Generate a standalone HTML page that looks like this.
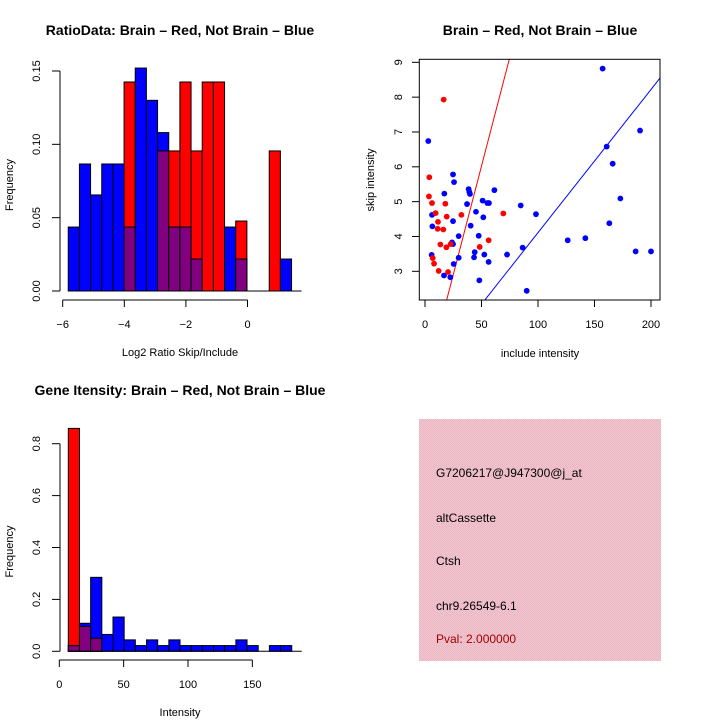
<!DOCTYPE html>
<html><head><meta charset="utf-8"><style>
body{margin:0;background:#fff}
svg{display:block;font-family:"Liberation Sans",sans-serif}
</style></head><body>
<svg id="svg" width="720" height="720" viewBox="0 0 720 720">
<defs><pattern id="pk" width="2" height="2" patternUnits="userSpaceOnUse"><rect width="2" height="2" fill="#f4c4cc"/><rect width="1" height="1" fill="#e8b8c6"/><rect x="1" y="1" width="1" height="1" fill="#e8b8c6"/></pattern></defs>
<text x="180" y="35" font-size="14" font-weight="bold" text-anchor="middle">RatioData: Brain – Red, Not Brain – Blue</text>
<text x="540" y="35" font-size="14" font-weight="bold" text-anchor="middle">Brain – Red, Not Brain – Blue</text>
<text x="180" y="395" font-size="14" font-weight="bold" text-anchor="middle">Gene Itensity: Brain – Red, Not Brain – Blue</text>
<g id="h1"></g>
<g id="sc"></g>
<g id="h2"></g>
<g>
<rect x="419" y="419" width="242" height="242" fill="url(#pk)"/>
<text x="436" y="477" font-size="12">G7206217@J947300@j_at</text>
<text x="436" y="522" font-size="12">altCassette</text>
<text x="436" y="565" font-size="12">Ctsh</text>
<text x="436" y="610" font-size="12">chr9.26549-6.1</text>
<text x="436" y="643" font-size="12" fill="#a00000">Pval: 2.000000</text>
</g>
</svg>
<script>
const ratioBlue=[0.0436,0.0866,0.0655,0.0866,0.0866,0.0436,0.152,0.130,0.108,0.0436,0.0436,0.0218,0,0,0.0436,0.0218,0,0,0,0.0218];
const ratioRed=[0,0,0,0,0,0.1425,0,0,0.0955,0.0955,0.1425,0.0955,0.1425,0.1425,0,0.0477,0,0,0.0955,0];
const ratioStart=-5.82, ratioWidth=0.3625;
const ratioXTicks=[-6,-4,-2,0];
const ratioYTicks=[0,0.05,0.10,0.15];
const intBlue=[0.022,0.108,0.285,0.065,0.132,0.044,0.022,0.044,0.022,0.044,0.022,0.022,0.022,0.022,0.022,0.044,0.022,0,0.022,0.022];
const intRed=[0.859,0.096,0.050,0,0,0,0,0,0,0,0,0,0,0,0,0,0,0,0,0];
const intStart=7.0, intWidth=8.68;
const intXTicks=[0,50,100,150];
const intYTicks=[0,0.2,0.4,0.6,0.8];
const blueX=[157.2,2.9,190.3,160.8,166.1,24.8,25.7,38.6,39.2,39.8,61.4,17.1,37.2,51.0,55.2,56.6,84.7,172.9,45.1,51.6,98.2,6.2,6.5,24.8,40.4,163.1,29.8,47.5,126.3,141.9,23.9,24.8,86.4,186.4,200,44,43.4,52.5,72.6,5.9,29.8,56.3,25.4,16.8,22.4,48.1,90.0];
const blueY=[8.82,6.74,7.04,6.58,6.09,5.78,5.56,5.36,5.28,5.22,5.33,5.23,4.93,5.03,4.96,4.96,4.89,5.09,4.71,4.55,4.64,4.62,4.29,4.44,4.31,4.38,4.01,4.02,3.89,3.95,3.83,3.78,3.68,3.57,3.57,3.55,3.40,3.48,3.48,3.47,3.39,3.27,3.21,2.88,2.83,2.74,2.44];
const redX=[16.5,3.8,3.5,6.2,18,9.4,19.2,32.2,69.3,11.5,11.2,16.2,13.6,18.9,48.4,56.3,22.7,6.8,8,12.1,20.4];
const redY=[7.93,5.70,5.15,4.96,4.94,4.67,4.57,4.62,4.66,4.42,4.22,4.20,3.77,3.69,3.70,3.89,3.78,3.38,3.22,3.01,2.98];
const redLine=[-0.214,0.1247];
const blueLine=[0.0,0.0411];
const scXTicks=[0,50,100,150,200];
const scYTicks=[3,4,5,6,7,8,9];
const NS="http://www.w3.org/2000/svg";
function mk(p,t,a,txt){const e=document.createElementNS(NS,t);for(const k in a)e.setAttribute(k,a[k]);if(txt!==undefined)e.textContent=txt;p.appendChild(e);return e;}
function fmt(v,d){return (v<0?"−":"")+Math.abs(v).toFixed(d);}
function hist(g,o){
 const X=v=>o.x0+(v-o.xmin)*o.xs, Y=v=>o.y0-v*o.ys;
 for(let i=0;i<o.blue.length;i++){
  const a=X(o.start+i*o.w), b=X(o.start+(i+1)*o.w);
  const bl=o.blue[i], rd=o.red[i];
  if(bl>0){const r=mk(g,"rect",{x:a,y:Y(bl),width:b-a,height:Y(0)-Y(bl),fill:"#0000ff",stroke:"#000","stroke-width":1});
   
   }
  if(rd>0){const r=mk(g,"rect",{x:a,y:Y(rd),width:b-a,height:Y(0)-Y(rd),fill:"#ff0000",stroke:"#000","stroke-width":1});
   
   }
  if(bl>0&&rd>0){const m=Math.min(bl,rd);const r=mk(g,"rect",{x:a,y:Y(m),width:b-a,height:Y(0)-Y(m),fill:"#800080",stroke:"#000","stroke-width":1});
   
   }
 }
 mk(g,"line",{x1:X(o.start),x2:X(o.start+o.blue.length*o.w)+10,y1:Y(0),y2:Y(0),stroke:"#000"});
 // y axis
 const yt=o.yticks;
 mk(g,"line",{x1:60,x2:60,y1:Y(yt[0]),y2:Y(yt[yt.length-1]),stroke:"#000"});
 yt.forEach(v=>{mk(g,"line",{x1:52,x2:60,y1:Y(v),y2:Y(v),stroke:"#000"});
  const t=mk(g,"text",{x:0,y:0,"font-size":11,"text-anchor":"middle",transform:`translate(40,${Y(v)}) rotate(-90)`},v.toFixed(o.yd));
  
  });
 const ay=o.axisY, xt=o.xticks;
 mk(g,"line",{x1:X(xt[0]),x2:X(xt[xt.length-1]),y1:ay,y2:ay,stroke:"#000"});
 xt.forEach(v=>{mk(g,"line",{x1:X(v),x2:X(v),y1:ay,y2:ay+7,stroke:"#000"});
  const t=mk(g,"text",{x:X(v),y:ay+28,"font-size":11,"text-anchor":"middle"},fmt(v,0));
  
  });
 const xl=mk(g,"text",{x:180,y:ay+56,"font-size":11,"text-anchor":"middle"},o.xlab);
 
 
 const yl=mk(g,"text",{x:0,y:0,"font-size":11,"text-anchor":"middle",transform:`translate(13,${(Y(0)+Y(yt[yt.length-1]))/2+4}) rotate(-90)`},"Frequency");
 
 
}
hist(document.getElementById("h1"),{x0:62.7,xmin:-6,xs:30.8,y0:291,ys:1466.7,blue:ratioBlue,red:ratioRed,start:ratioStart,w:ratioWidth,xticks:ratioXTicks,yticks:ratioYTicks,yd:2,axisY:300,xlab:"Log2 Ratio Skip/Include"});
hist(document.getElementById("h2"),{x0:59.3,xmin:0,xs:1.287,y0:651.3,ys:259.5,blue:intBlue,red:intRed,start:intStart,w:intWidth,xticks:intXTicks,yticks:intYTicks,yd:1,axisY:660,xlab:"Intensity"});
// scatter
(function(){
 const g=document.getElementById("sc");
 const X=v=>425+v*1.13, Y=v=>271.3-(v-3)*34.83;
 mk(g,"defs",{}).innerHTML='<clipPath id="scclip"><rect x="419.3" y="59.3" width="240.7" height="240.7"/></clipPath>';
 const cg=mk(g,"g",{"clip-path":"url(#scclip)"});
 const xa=-10,xb=220;
 const l1=mk(cg,"line",{x1:X(xa),y1:Y(redLine[0]+redLine[1]*xa),x2:X(xb),y2:Y(redLine[0]+redLine[1]*xb),stroke:"#ff0000"});
 
 
 const l2=mk(cg,"line",{x1:X(xa),y1:Y(blueLine[0]+blueLine[1]*xa),x2:X(xb),y2:Y(blueLine[0]+blueLine[1]*xb),stroke:"#0000ff"});
 
 
 blueX.forEach((v,i)=>{const c=mk(g,"circle",{cx:X(v),cy:Y(blueY[i]),r:2.9,fill:"#0000ff"});
  
  });
 redX.forEach((v,i)=>{const c=mk(g,"circle",{cx:X(v),cy:Y(redY[i]),r:2.9,fill:"#ff0000"});
  
  });
 mk(g,"rect",{x:419.3,y:59.3,width:240.7,height:240.7,fill:"none",stroke:"#000"});
 scXTicks.forEach(v=>{mk(g,"line",{x1:X(v),x2:X(v),y1:300,y2:307,stroke:"#000"});
  const t=mk(g,"text",{x:X(v),y:328,"font-size":11,"text-anchor":"middle"},String(v));
  
  });
 mk(g,"line",{x1:X(0),x2:X(200),y1:300,y2:300,stroke:"#000"});
 scYTicks.forEach(v=>{mk(g,"line",{x1:412,x2:419.3,y1:Y(v),y2:Y(v),stroke:"#000"});
  const t=mk(g,"text",{x:0,y:0,"font-size":11,"text-anchor":"middle",transform:`translate(402,${Y(v)}) rotate(-90)`},String(v));
  
  });
 const xl=mk(g,"text",{x:540,y:357,"font-size":11,"text-anchor":"middle"},"include intensity");
 
 
 const yl=mk(g,"text",{x:0,y:0,"font-size":11,"text-anchor":"middle",transform:"translate(374,180) rotate(-90)"},"skip intensity");
 
 
})();
</script>
</body></html>
